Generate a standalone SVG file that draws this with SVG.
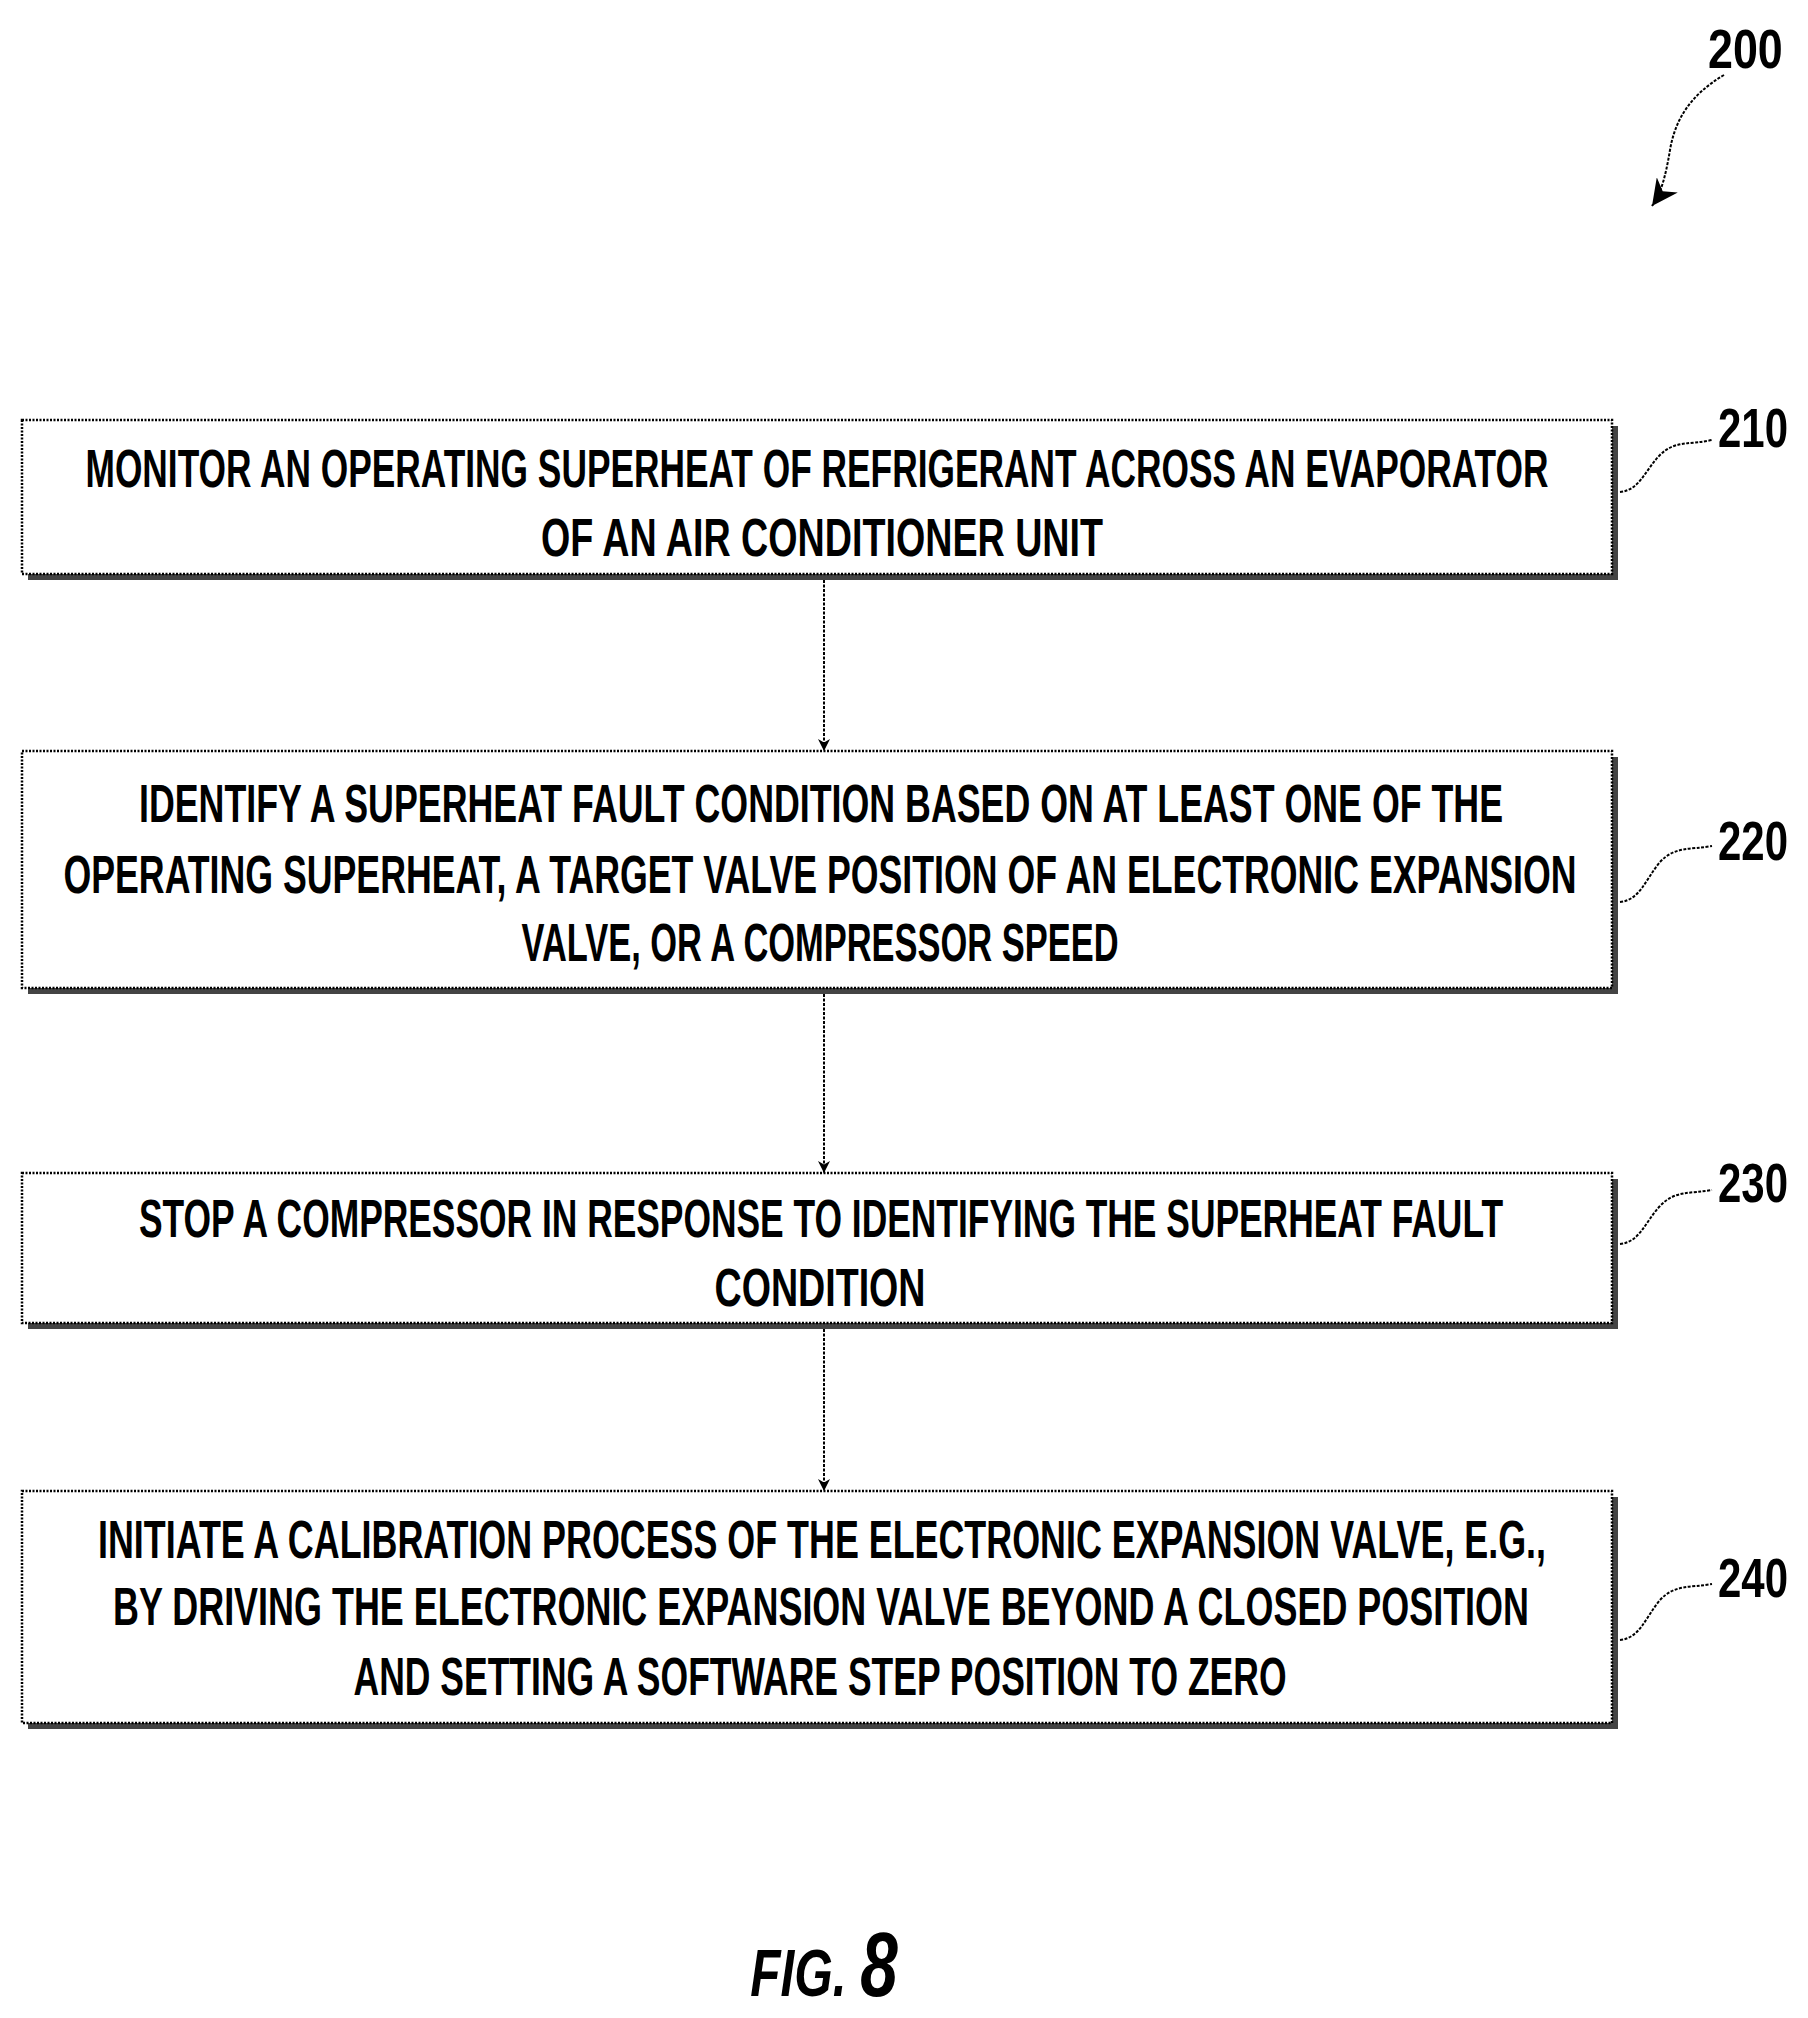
<svg xmlns="http://www.w3.org/2000/svg" width="1808" height="2018" viewBox="0 0 1808 2018">
<style>
.box{fill:#fff;stroke:#000;stroke-width:2.5;stroke-dasharray:2 1.5}
.sh{fill:#444}
.t{font-family:"Liberation Sans",sans-serif;font-weight:bold;font-size:54px;text-anchor:middle}
.lb{font-family:"Liberation Sans",sans-serif;font-weight:bold;font-size:56px}
.ln{fill:none;stroke:#000;stroke-width:2;stroke-dasharray:3 1.5}
</style>
<defs>
<marker id="ah" viewBox="0 0 10 10" refX="10" refY="5" markerWidth="12" markerHeight="12" markerUnits="userSpaceOnUse" orient="auto"><path d="M0,0 L10,5 L0,10 L3,5 z" fill="#000"/></marker>
<marker id="ah2" viewBox="0 0 10 10" refX="10" refY="5" markerWidth="26" markerHeight="26" markerUnits="userSpaceOnUse" orient="auto"><path d="M0,0 L10,5 L0,10 L3,5 z" fill="#000"/></marker>
</defs>
<g id="ref200">
<text class="lb" x="1708" y="68" transform="translate(1708 68) scale(0.8 1) translate(-1708 -68)">200</text>
<path class="ln" d="M1724,75 C1690,95 1675,120 1670,150 C1665,180 1660,195 1652,206" stroke-width="3" marker-end="url(#ah2)"/>
</g>
<g id="n210">
<rect class="sh" x="28" y="426" width="1590" height="154"/>
<rect class="box" x="22" y="420" width="1590" height="154"/>
<text class="t" x="817" y="487" textLength="1463" lengthAdjust="spacingAndGlyphs">MONITOR AN OPERATING SUPERHEAT OF REFRIGERANT ACROSS AN EVAPORATOR</text>
<text class="t" x="822" y="556" textLength="562" lengthAdjust="spacingAndGlyphs">OF AN AIR CONDITIONER UNIT</text>
<path class="ln" d="M1620,492 C1640,490 1645,470 1660,455 C1675,440 1690,445 1712,440"/>
<text class="lb" x="1718" y="447" textLength="70" lengthAdjust="spacingAndGlyphs">210</text>
</g>
<g id="n220">
<rect class="sh" x="28" y="757" width="1590" height="237"/>
<rect class="box" x="22" y="751" width="1590" height="237"/>
<text class="t" x="821" y="822" textLength="1364" lengthAdjust="spacingAndGlyphs">IDENTIFY A SUPERHEAT FAULT CONDITION BASED ON AT LEAST ONE OF THE</text>
<text class="t" x="820" y="893" textLength="1513" lengthAdjust="spacingAndGlyphs">OPERATING SUPERHEAT, A TARGET VALVE POSITION OF AN ELECTRONIC EXPANSION</text>
<text class="t" x="820" y="961" textLength="597" lengthAdjust="spacingAndGlyphs">VALVE, OR A COMPRESSOR SPEED</text>
<path class="ln" d="M1620,902 C1640,900 1645,880 1660,862 C1675,846 1690,850 1712,846"/>
<text class="lb" x="1718" y="860" textLength="70" lengthAdjust="spacingAndGlyphs">220</text>
</g>
<g id="n230">
<rect class="sh" x="28" y="1179" width="1590" height="150"/>
<rect class="box" x="22" y="1173" width="1590" height="150"/>
<text class="t" x="821" y="1237" textLength="1364" lengthAdjust="spacingAndGlyphs">STOP A COMPRESSOR IN RESPONSE TO IDENTIFYING THE SUPERHEAT FAULT</text>
<text class="t" x="820" y="1306" textLength="211" lengthAdjust="spacingAndGlyphs">CONDITION</text>
<path class="ln" d="M1620,1244 C1640,1242 1645,1222 1660,1206 C1675,1190 1690,1194 1712,1190"/>
<text class="lb" x="1718" y="1202" textLength="70" lengthAdjust="spacingAndGlyphs">230</text>
</g>
<g id="n240">
<rect class="sh" x="28" y="1497" width="1590" height="232"/>
<rect class="box" x="22" y="1491" width="1590" height="232"/>
<text class="t" x="822" y="1558" textLength="1448" lengthAdjust="spacingAndGlyphs">INITIATE A CALIBRATION PROCESS OF THE ELECTRONIC EXPANSION VALVE, E.G.,</text>
<text class="t" x="821" y="1625" textLength="1416" lengthAdjust="spacingAndGlyphs">BY DRIVING THE ELECTRONIC EXPANSION VALVE BEYOND A CLOSED POSITION</text>
<text class="t" x="820" y="1695" textLength="933" lengthAdjust="spacingAndGlyphs">AND SETTING A SOFTWARE STEP POSITION TO ZERO</text>
<path class="ln" d="M1620,1640 C1640,1638 1645,1618 1660,1600 C1675,1584 1690,1588 1712,1584"/>
<text class="lb" x="1718" y="1597" textLength="70" lengthAdjust="spacingAndGlyphs">240</text>
</g>
<g id="connectors">
<path class="ln" d="M824,580 V751" marker-end="url(#ah)"/>
<path class="ln" d="M824,994 V1173" marker-end="url(#ah)"/>
<path class="ln" d="M824,1329 V1491" marker-end="url(#ah)"/>
</g>
<text x="824" y="1996" font-family="Liberation Sans,sans-serif" font-style="italic" font-weight="bold" text-anchor="middle" transform="translate(824 1996) scale(0.75 1) translate(-824 -1996)"><tspan font-size="66px">FIG. </tspan><tspan font-size="90px">8</tspan></text>
</svg>
